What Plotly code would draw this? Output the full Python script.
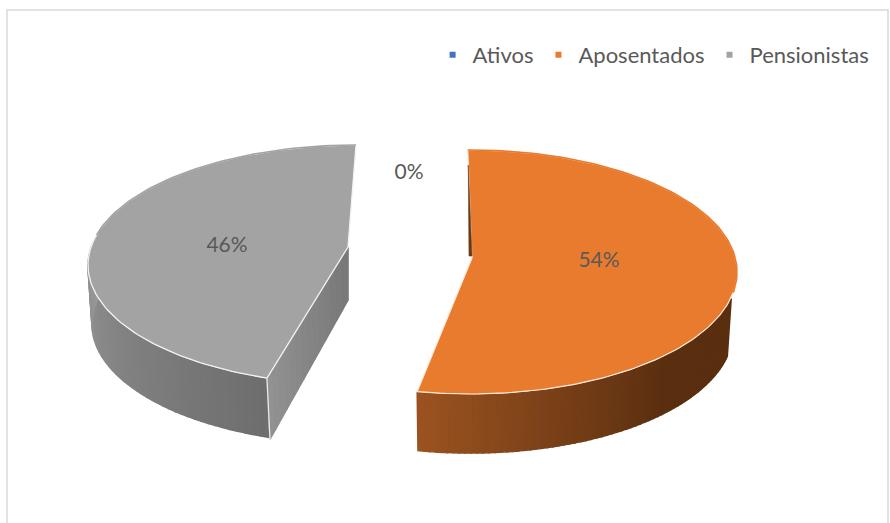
import numpy as np
import plotly.graph_objects as go

# ---- data ----
categories = ["Ativos", "Aposentados", "Pensionistas"]
values = [0.2, 53.8, 46.0]
labels = ["0%", "54%", "46%"]
colors = ["#4472C4", "#E97B2F", "#A3A3A3"]

W, H = 890, 523
DEPTH = 60


def mix(c1, c2, f):
    a = [int(c1[i:i + 2], 16) for i in (1, 3, 5)]
    b = [int(c2[i:i + 2], 16) for i in (1, 3, 5)]
    return "rgb(%d,%d,%d)" % tuple(round(a[i] + (b[i] - a[i]) * f) for i in range(3))


fig = go.Figure()


def poly(xs, ys, fill, line=None, width=1.6):
    fig.add_trace(go.Scatter(x=list(xs), y=list(ys), mode="lines", fill="toself", fillcolor=fill,
                             line=dict(color=line or fill, width=width),
                             hoverinfo="skip", showlegend=False))


def rim(cx, cy, rx, ry, t):
    r = np.radians(t)
    return cx + rx * np.sin(r), cy - ry * np.cos(r)


def low(cx, cy, rx, ry, t):
    r = np.radians(t)
    return cx + (rx - 4) * np.sin(r), cy + DEPTH - ry * np.cos(r)


cum = np.cumsum([0] + values)
ang = cum * 3.6

# ---- Pensionistas slice ----
g = dict(cx=356, cy=265, rx=268, ry=120)
g_start = ang[2] + 5
apex_g = (348, 247)
ts = np.linspace(g_start, 282, 46)   # visible outer wall, left of the front corner
for a, b in zip(ts[:-1], ts[1:]):
    f = (a - g_start) / (282 - g_start)
    p0 = rim(**g, t=a); p1 = rim(**g, t=b)
    q1 = low(**g, t=b); q0 = low(**g, t=a)
    poly([p0[0], p1[0], q1[0], q0[0], p0[0]], [p0[1] + 1, p1[1] + 1, q1[1] - 1, q0[1] - 1, p0[1] + 1],
         mix("#6E6E6E", "#979797", f))
corner = rim(**g, t=g_start)
clow = low(**g, t=g_start)
clow = (corner[0] + 3, clow[1] + 1)
# inner cut face
n = 14
for i in range(n):
    f0, f1 = i / n, (i + 1) / n
    x0 = corner[0] + (apex_g[0] - corner[0]) * f0; y0 = corner[1] + (apex_g[1] - corner[1]) * f0
    x1 = corner[0] + (apex_g[0] - corner[0]) * f1; y1 = corner[1] + (apex_g[1] - corner[1]) * f1
    u0 = clow[0] + (apex_g[0] - clow[0]) * f0; v0 = clow[1] + (apex_g[1] + 53 - clow[1]) * f0
    u1 = clow[0] + (apex_g[0] - clow[0]) * f1; v1 = clow[1] + (apex_g[1] + 53 - clow[1]) * f1
    poly([x0, x1, u1, u0, x0], [y0, y1, v1, v0, y0], mix("#929292", "#777777", f0))
poly([corner[0], clow[0]], [corner[1], clow[1]], "rgba(0,0,0,0)", "#EDEDED", 1.2)
ts = np.linspace(g_start, 360, 120)
px, py = zip(*[rim(**g, t=t) for t in ts])
poly(list(px) + [apex_g[0], px[0]], list(py) + [apex_g[1], py[0]], colors[2], "#F2F2F2", 1.3)
# hide outline on the outer back edge
back = ts[ts > 284]
bx, by = zip(*[rim(**g, t=t) for t in back])
poly(bx, by, "rgba(0,0,0,0)", colors[2], 1.6)

# ---- Aposentados slice ----
o = dict(cx=470, cy=272, rx=267, ry=122)
o_end = ang[2] - 3
apex_o = (472, 258)
ts = np.linspace(102, o_end, 70)
for a, b in zip(ts[:-1], ts[1:]):
    f = (a - 102) / (o_end - 102)
    p0 = rim(**o, t=a); p1 = rim(**o, t=b)
    q1 = low(**o, t=b); q0 = low(**o, t=a)
    poly([p0[0], p1[0], q1[0], q0[0], p0[0]], [p0[1] + 1, p1[1] + 1, q1[1] - 1, q0[1] - 1, p0[1] + 1],
         mix("#5A2F10", "#9C5320", max(0, f - 0.35) / 0.65))
ts = np.linspace(ang[1] - 1.2, o_end, 160)
px, py = zip(*[rim(**o, t=t) for t in ts])
poly(list(px) + [apex_o[0], px[0]], list(py) + [apex_o[1], py[0]], colors[1], "#FFE9D6", 1.2)
back = ts[ts < 100]
bx, by = zip(*[rim(**o, t=t) for t in back])
poly(bx, by, "rgba(0,0,0,0)", colors[1], 1.6)
# inner sliver: dark cut face next to the tiny Ativos slice
top = rim(**o, t=ang[1] - 1.2)
poly([top[0] + 0.5, apex_o[0], apex_o[0] - 3, top[0] + 0.5],
     [top[1] + 15, apex_o[1] - 2, apex_o[1] - 2, top[1] + 15], "#6B3A12", width=0.6)

# ---- percentage labels ----
fig.add_trace(go.Scatter(x=[409, 599, 227], y=[174, 262, 247], mode="text", text=labels,
                         textposition="middle center", textfont=dict(family="Lato", size=21, color="#595959"),
                         hoverinfo="skip", showlegend=False))

# ---- legend entries ----
for name, col in zip(categories, colors):
    fig.add_trace(go.Scatter(x=[None], y=[None], mode="markers", name=name,
                             marker=dict(symbol="square", size=6, color=col)))

fig.update_layout(
    width=W, height=H, margin=dict(l=0, r=0, t=0, b=0),
    paper_bgcolor="white", plot_bgcolor="white",
    xaxis=dict(range=[0, W], visible=False, fixedrange=True),
    yaxis=dict(range=[H, 0], visible=False, fixedrange=True),
    legend=dict(orientation="h", x=0.9827, xanchor="right", y=0.935, yanchor="top",
                font=dict(family="Lato", size=22, color="#595959"), traceorder="normal",
                itemwidth=30, bgcolor="rgba(0,0,0,0)"),
    shapes=[dict(type="rect", xref="x", yref="y", x0=7, y0=10, x1=888, y1=540,
                 line=dict(color="#D9D9D9", width=1.5), layer="below")],
    font=dict(family="Lato"),
)
fig.write_html("out.html", config=dict(displayModeBar=False),
               post_script="document.body.style.margin='0';")
